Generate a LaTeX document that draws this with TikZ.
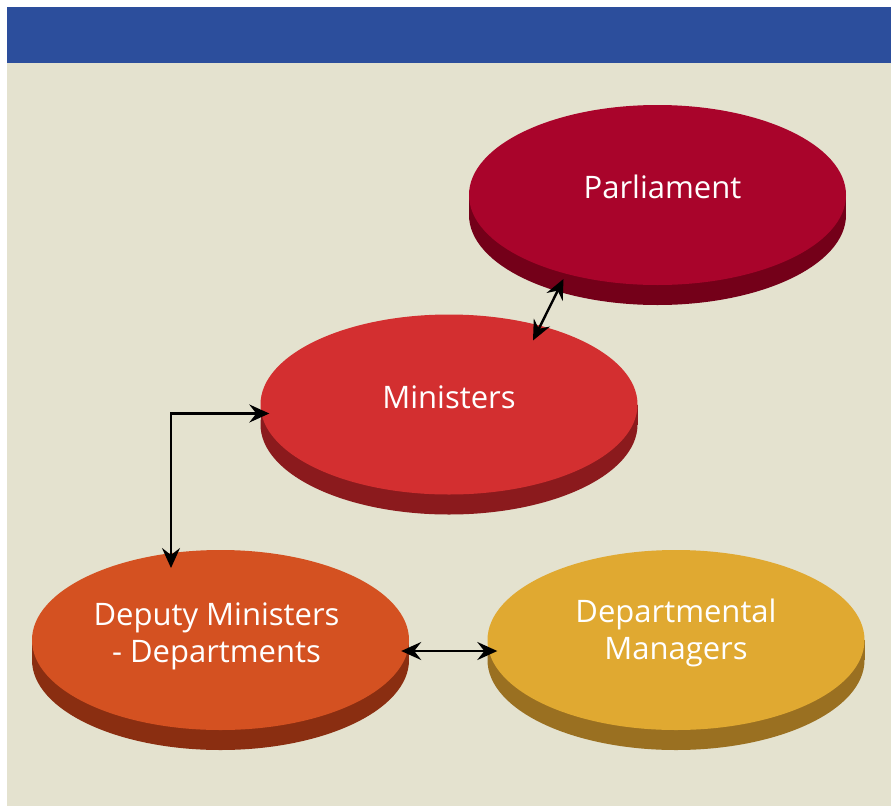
\documentclass[tikz,border=0pt]{standalone}
\usepackage{fontspec}
\setmainfont{Open Sans}
\usetikzlibrary{shapes.geometric,arrows.meta}

\definecolor{barblue}{HTML}{2C4E9C}
\definecolor{paper}{HTML}{E4E2CF}
\definecolor{parltop}{HTML}{A9042B}
\definecolor{parlside}{HTML}{740019}
\definecolor{mintop}{HTML}{D32F30}
\definecolor{minside}{HTML}{8B1A1D}
\definecolor{deptop}{HTML}{D45121}
\definecolor{depside}{HTML}{8A2E11}
\definecolor{mgrtop}{HTML}{E0A931}
\definecolor{mgrside}{HTML}{9A7021}

\begin{document}
\begin{tikzpicture}[x=1pt,y=-1pt,
    disc/.style={ellipse,minimum width=377pt,minimum height=180pt,inner sep=0pt},
    conn/.style={line width=2.4pt,{Stealth[length=20pt,width=18pt,inset=7pt]}-{Stealth[length=20pt,width=18pt,inset=7pt]}}]
            % panel and title bar
            \fill[white] (0,0) rectangle (891,806);
            \fill[paper] (7,7) rectangle (891,806);
            \fill[barblue] (7,7) rectangle (891,63);
            % discs: side first, then the top face
            \foreach \nm/\cx/\cy/\topc/\sidec in {parl/657.5/195/parltop/parlside,
                    mins/449/404.5/mintop/minside, deps/220.5/640/deptop/depside,
                    mgrs/676/640/mgrtop/mgrside} {
                \fill[\sidec] (\cx,\cy+20) ellipse [x radius=188.5pt,y radius=90pt];
                \fill[\sidec] (\cx-188.5,\cy) rectangle (\cx+188.5,\cy+20);
                \node[disc,fill=\topc] (\nm) at (\cx,\cy) {};
            }
            \begin{scope}[every node/.style={text=white,align=center,font=\fontsize{31}{37}\selectfont}]
                \node (parltxt) at ([shift={(5,-8)}]parl) {Parliament};
                \node (minstxt) at ([yshift=7pt]mins) {Ministers};
                \node (depstxt) at ([shift={(-4,-4)}]deps) {Deputy Ministers\\- Departments};
                \node (mgrstxt) at ([yshift=7pt]mgrs) {Departmental\\Managers};
            \end{scope}
            \draw[conn] ([shift={(-94,84)}]parl.center) -- ([shift={(84,-64)}]mins.center);
            \draw[conn] ([shift={(9,9)}]mins.west) -| ([shift={(-49.5,-72)}]deps.center);
            \draw[conn] ([shift={(-8,11)}]deps.east) -- ([shift={(10,11)}]mgrs.west);
        \end{tikzpicture}
\end{document}
